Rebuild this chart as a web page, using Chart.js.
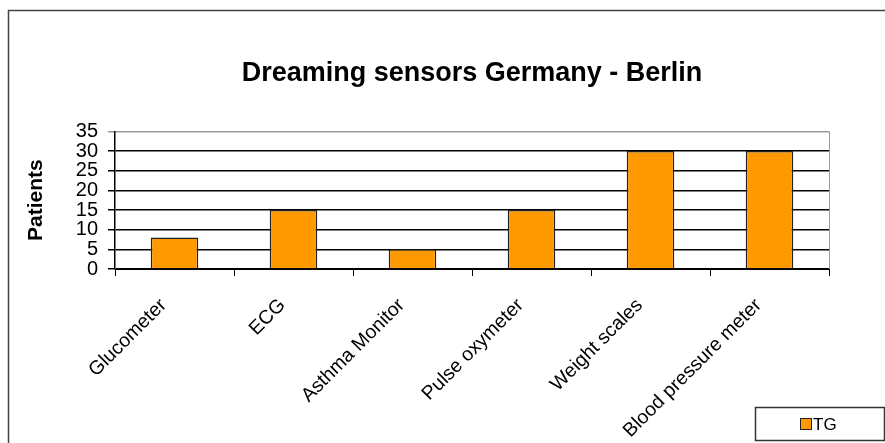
<!DOCTYPE html>
<html>
<head>
<meta charset="utf-8">
<script src="https://cdn.jsdelivr.net/npm/chart.js@4"></script>
<style>
  html, body { margin: 0; padding: 0; background: #fff; }
  #wrap { width: 885px; height: 443px; }
</style>
</head>
<body>
<div id="wrap"><canvas id="grafikSensor" width="885" height="443"></canvas></div>
<script>
const kategori = ['Glucometer', 'ECG', 'Asthma Monitor', 'Pulse oxymeter', 'Weight scales', 'Blood pressure meter'];
const pasienTG = [8, 15, 5, 15, 30, 30];
const tickY = [0, 5, 10, 15, 20, 25, 30, 35];

const FONT = '"Liberation Sans", Arial, sans-serif';

// frame around the whole chart, right border of the plot and the legend box
const bingkai = {
    id: 'bingkai',
    afterDraw(chart) {
        const c = chart.ctx;
        const area = chart.chartArea;
        c.save();
        c.strokeStyle = '#444';
        c.lineWidth = 1.5;
        c.strokeRect(8.5, 10.5, 900, 500);

        c.strokeStyle = '#999';
        c.lineWidth = 1;
        c.beginPath();
        c.moveTo(Math.round(area.right) + 0.5, area.top);
        c.lineTo(Math.round(area.right) + 0.5, area.bottom);
        c.stroke();

        // legend
        c.strokeStyle = '#333';
        c.lineWidth = 1.5;
        c.strokeRect(755.5, 407.5, 129, 33);
        const ds = chart.data.datasets[0];
        c.fillStyle = ds.backgroundColor;
        c.fillRect(801, 419, 10, 10);
        c.strokeStyle = '#222';
        c.lineWidth = 1;
        c.strokeRect(800.5, 418.5, 11, 11);
        c.fillStyle = '#000';
        c.font = '17px ' + FONT;
        c.textBaseline = 'middle';
        c.fillText(ds.label, 813, 425);
        c.restore();
    }
};

const ctx = document.getElementById('grafikSensor').getContext('2d');

const grafikSensor = new Chart(ctx, {
    type: 'bar',
    data: {
        labels: kategori,
        datasets: [{
            label: 'TG',
            data: pasienTG,
            backgroundColor: '#FF9900',
            borderColor: '#222222',
            borderWidth: 1.5,
            barPercentage: 0.4,
            categoryPercentage: 1.0,
        }]
    },
    options: {
        responsive: false,
        animation: false,
        layout: {
            padding: { left: 20, right: 56, top: 0, bottom: 0 }
        },
        scales: {
            x: {
                grid: {
                    display: true,
                    drawOnChartArea: false,
                    offset: true,
                    color: '#000',
                    tickLength: 7,
                },
                border: { color: '#000' },
                ticks: {
                    minRotation: 45,
                    maxRotation: 45,
                    autoSkip: false,
                    color: '#000',
                    font: { family: FONT, size: 19.5 },
                    padding: 18,
                    labelOffset: -11,
                },
                afterFit(scale) { scale.height = 174; }
            },
            y: {
                min: 0,
                max: 35,
                afterBuildTicks(scale) {
                    scale.ticks = tickY.map(v => ({ value: v }));
                },
                grid: {
                    color: ctx => ctx.tick && ctx.tick.value === 35 ? '#999' : '#000',
                    lineWidth: 1.5,
                    tickLength: 7,
                },
                border: { color: '#000', width: 1.5 },
                ticks: {
                    autoSkip: false,
                    color: '#000',
                    font: { family: FONT, size: 20 },
                    padding: 10,
                },
                title: {
                    display: true,
                    text: 'Patients',
                    color: '#000',
                    font: { family: FONT, size: 21, weight: 'bold' },
                    padding: 4,
                },
                afterFit(scale) { scale.width = 95; }
            }
        },
        plugins: {
            legend: { display: false },
            tooltip: { enabled: false },
            title: {
                display: true,
                fullSize: false,
                text: 'Dreaming sensors Germany - Berlin',
                color: '#000',
                font: { family: FONT, size: 27, weight: 'bold' },
                padding: { top: 57, bottom: 42 },
            }
        }
    },
    plugins: [bingkai]
});
</script>
</body>
</html>
